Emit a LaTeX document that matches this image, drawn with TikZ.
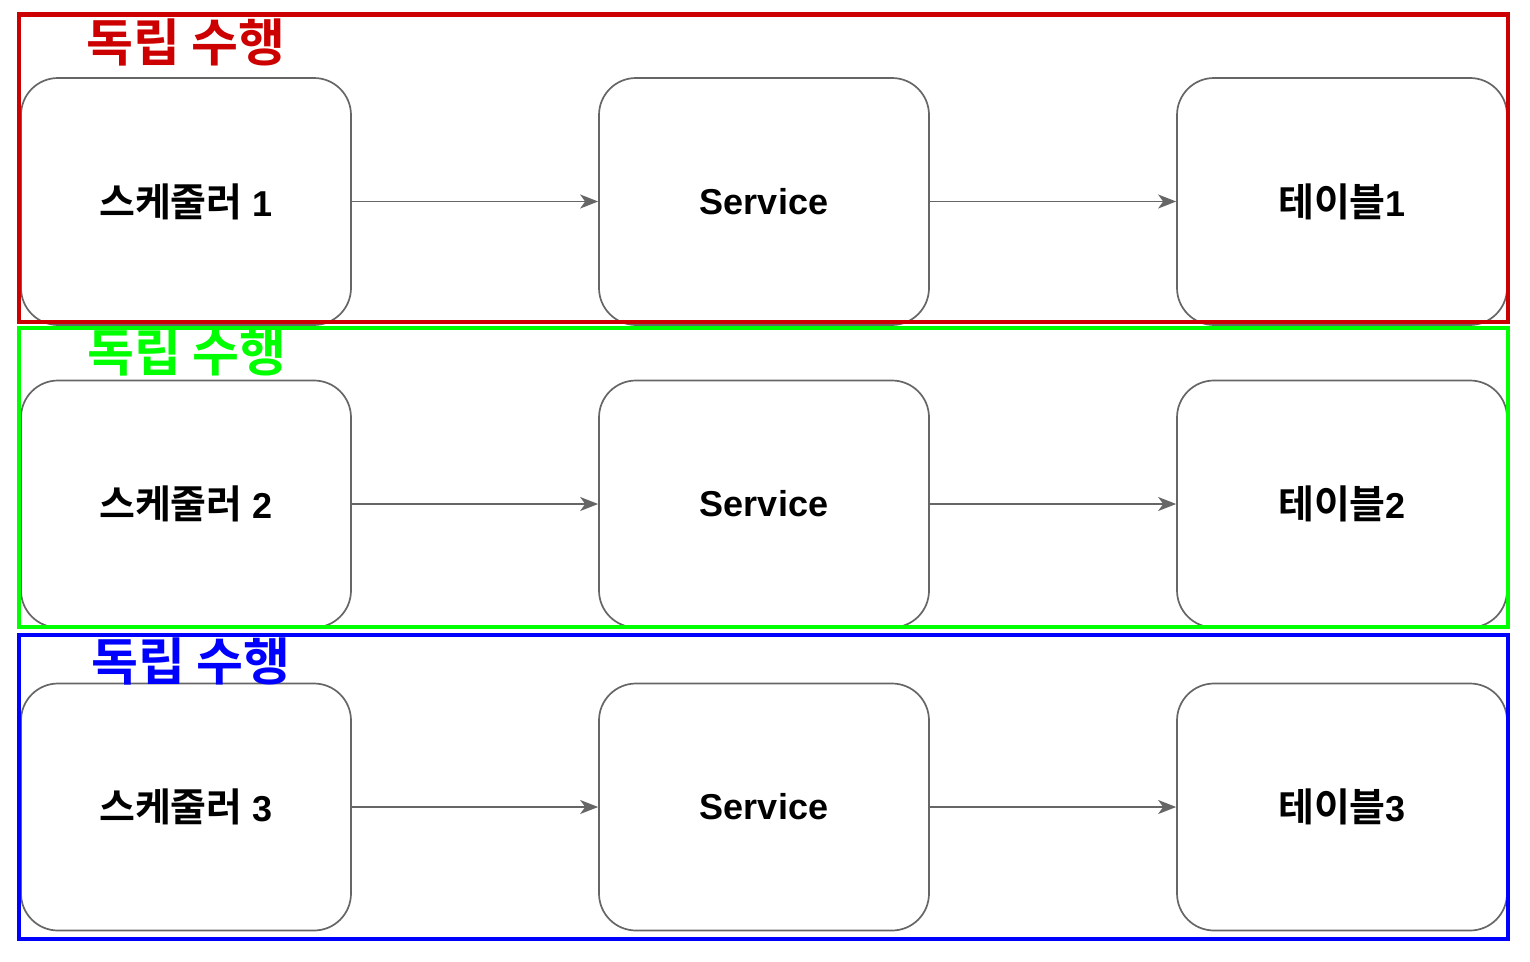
\documentclass[tikz,border=0pt]{standalone}
\usepackage{fontspec}
\setmainfont{Liberation Sans}[BoldFont={Liberation Sans Bold}]
\newfontfamily\cjk{Noto Sans CJK KR}[BoldFont={Noto Sans CJK KR Bold}]
\usetikzlibrary{arrows.meta}
\definecolor{boxgray}{HTML}{666666}
\definecolor{fred}{HTML}{CC0000}
\definecolor{fgreen}{HTML}{00FF00}
\definecolor{fblue}{HTML}{0000FF}
\newcommand{\kr}[1]{{\cjk\fontsize{39}{42}\selectfont #1}}
\begin{document}
\begin{tikzpicture}[x=1pt,y=-1pt,
  boxnode/.style={draw=boxgray,line width=1.7pt,fill=white,rounded corners=37pt,
    minimum width=330pt,minimum height=247pt,inner sep=0pt,
    font=\fontsize{36}{40}\selectfont\bfseries},
  frame/.style={line width=4.5pt},
  conn/.style={draw=boxgray,line width=1.7pt,-{Stealth[length=18pt,width=14pt,inset=5pt]}},
  ttl/.style={font=\cjk\fontsize{51}{55}\selectfont\bfseries,inner sep=0pt}]
\useasboundingbox (0,0) rectangle (1530,961);
\fill[white] (0,0) rectangle (1530,961);
% boxes
\foreach \r/\yc/\n in {1/201.5/1,2/504/2,3/807/3}{
  \node[boxnode] (s\r) at (186,\yc) {\kr{스케줄러} \n};
  \node[boxnode] (v\r) at (764,\yc) {Service};
  \node[boxnode] (t\r) at (1342,\yc) {\kr{테이블}\n};
  \draw[conn] (s\r.east) -- (v\r.west);
  \draw[conn] (v\r.east) -- (t\r.west);
}
% frames
\draw[frame,fred] (19,14.5) rectangle (1508,322);
\draw[frame,fgreen] (19,328) rectangle (1508,627);
\draw[frame,fblue] (19,635) rectangle (1508,939);
% titles
\node[ttl,text=fred] (h1) at (186,42) {독립 수행};
\node[ttl,text=fgreen] (h2) at (187,352) {독립 수행};
\node[ttl,text=fblue] (h3) at (191,661) {독립 수행};
\end{tikzpicture}
\end{document}
